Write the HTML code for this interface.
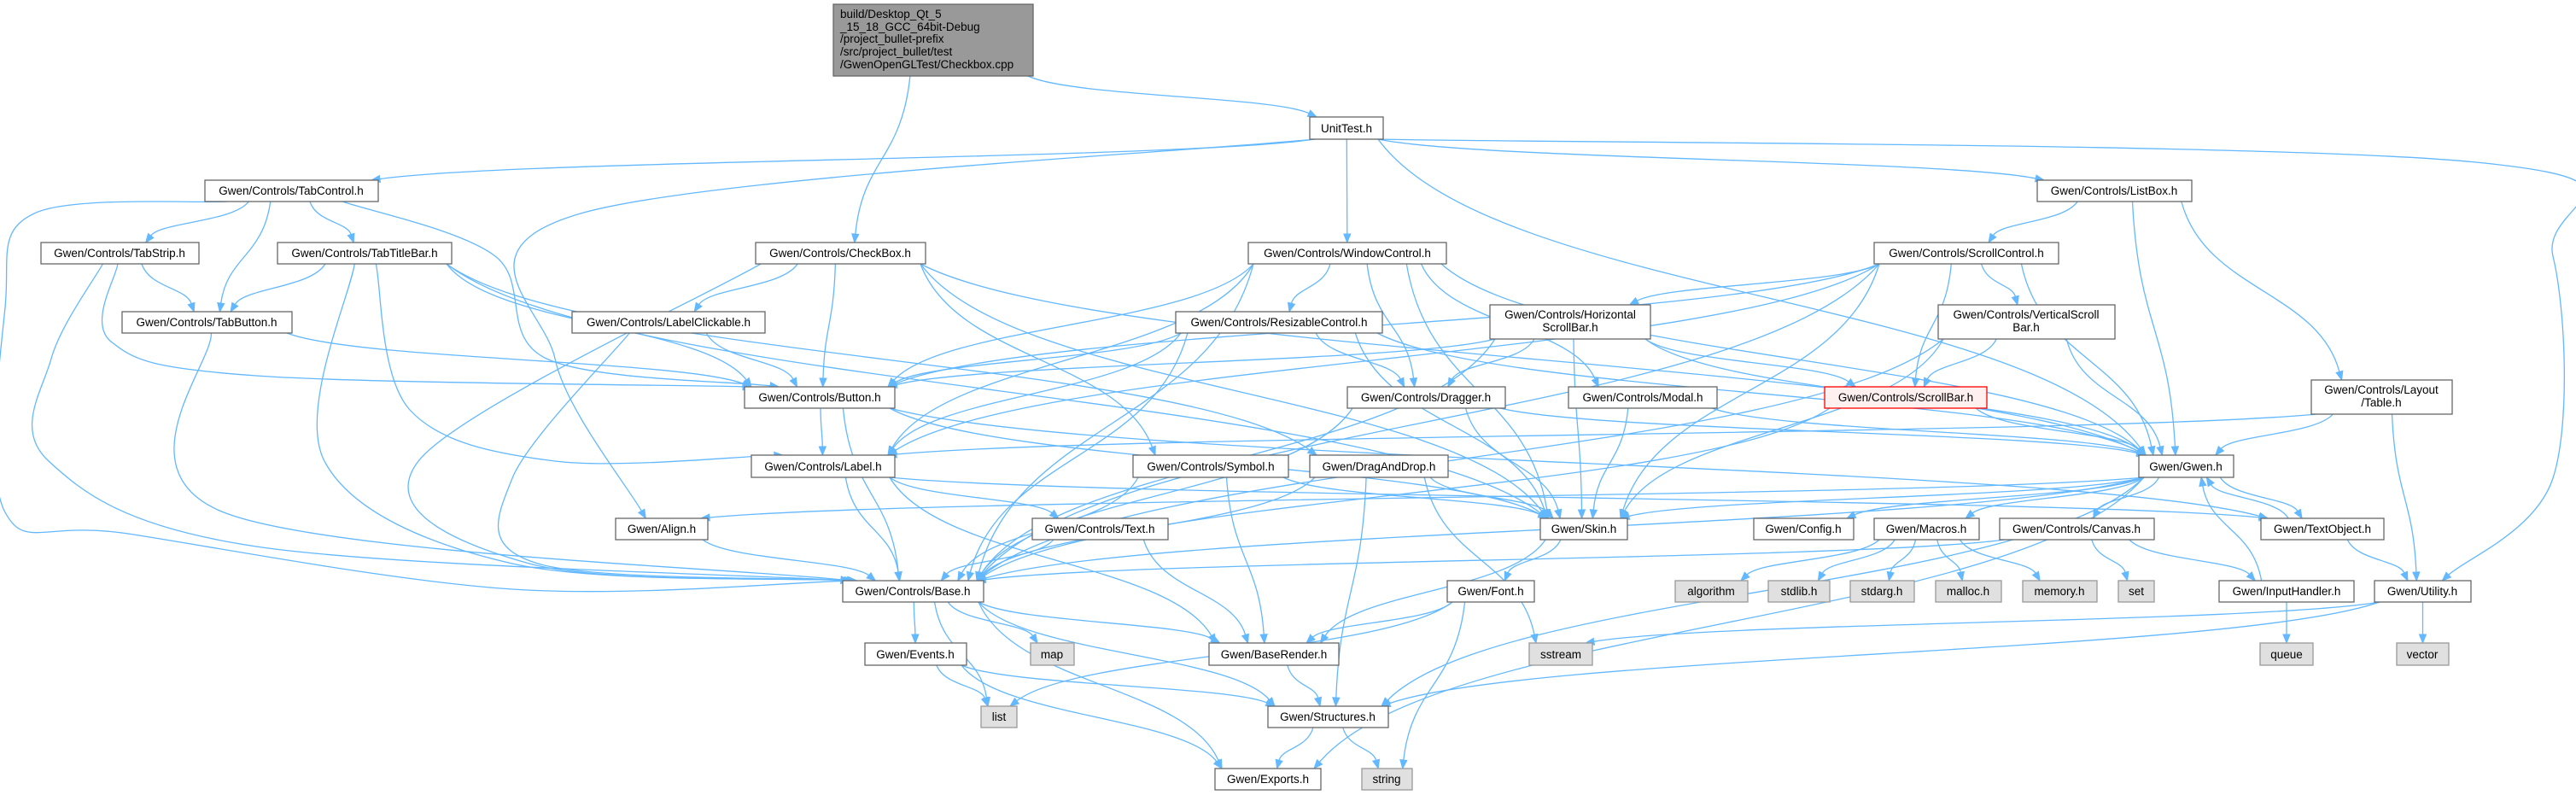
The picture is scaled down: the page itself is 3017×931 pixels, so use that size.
<!DOCTYPE html>
<html><head><meta charset="utf-8">
<style>
html,body{margin:0;padding:0;background:#fff;}
svg{display:block;}
text{font-family:"Liberation Sans","DejaVu Sans",sans-serif;font-size:13.5px;fill:#000;}
.n rect{fill:#fff;stroke:#666;stroke-width:1.3;}
.g rect{fill:#e0e0e0;stroke:#999;stroke-width:1.3;}
</style></head>
<body>
<svg id="s" width="3017" height="931" viewBox="0 0 3017 931" xmlns="http://www.w3.org/2000/svg">
<g id="edges"></g>
<g id="nodes">
<g><rect x="976" y="5" width="234" height="84" fill="#999" stroke="#666" stroke-width="1.3"/>
<text x="984" y="21">build/Desktop_Qt_5</text>
<text x="984" y="36">_15_18_GCC_64bit-Debug</text>
<text x="984" y="50">/project_bullet-prefix</text>
<text x="984" y="65">/src/project_bullet/test</text>
<text x="984" y="80">/GwenOpenGLTest/Checkbox.cpp</text></g>
<g class="n"><rect x="1534" y="137" width="86" height="26"/><text x="1577" y="155" text-anchor="middle">UnitTest.h</text></g>
<g class="n"><rect x="240" y="211" width="203" height="25"/><text x="341" y="228" text-anchor="middle">Gwen/Controls/TabControl.h</text></g>
<g class="n"><rect x="48" y="284" width="185" height="25"/><text x="140" y="301" text-anchor="middle">Gwen/Controls/TabStrip.h</text></g>
<g class="n"><rect x="325" y="284" width="204" height="25"/><text x="427" y="301" text-anchor="middle">Gwen/Controls/TabTitleBar.h</text></g>
<g class="n"><rect x="143" y="365" width="199" height="25"/><text x="242" y="382" text-anchor="middle">Gwen/Controls/TabButton.h</text></g>
<g class="n"><rect x="885" y="284" width="199" height="25"/><text x="984" y="301" text-anchor="middle">Gwen/Controls/CheckBox.h</text></g>
<g class="n"><rect x="670" y="365" width="226" height="25"/><text x="783" y="382" text-anchor="middle">Gwen/Controls/LabelClickable.h</text></g>
<g class="n"><rect x="872" y="453" width="176" height="25"/><text x="960" y="470" text-anchor="middle">Gwen/Controls/Button.h</text></g>
<g class="n"><rect x="880" y="533" width="168" height="26"/><text x="964" y="551" text-anchor="middle">Gwen/Controls/Label.h</text></g>
<g class="n"><rect x="721" y="607" width="108" height="25"/><text x="775" y="624" text-anchor="middle">Gwen/Align.h</text></g>
<g class="n"><rect x="987" y="680" width="165" height="25"/><text x="1069" y="697" text-anchor="middle">Gwen/Controls/Base.h</text></g>
<g class="n"><rect x="1462" y="284" width="232" height="25"/><text x="1578" y="301" text-anchor="middle">Gwen/Controls/WindowControl.h</text></g>
<g class="n"><rect x="1377" y="365" width="242" height="25"/><text x="1498" y="382" text-anchor="middle">Gwen/Controls/ResizableControl.h</text></g>
<g class="n"><rect x="1745" y="357" width="188" height="40"/><text x="1839" y="373" text-anchor="middle">Gwen/Controls/Horizontal</text><text x="1839" y="388" text-anchor="middle">ScrollBar.h</text></g>
<g class="n"><rect x="1578" y="453" width="185" height="25"/><text x="1670" y="470" text-anchor="middle">Gwen/Controls/Dragger.h</text></g>
<g class="n"><rect x="1837" y="453" width="174" height="25"/><text x="1924" y="470" text-anchor="middle">Gwen/Controls/Modal.h</text></g>
<g class="n"><rect x="1327" y="533" width="182" height="26"/><text x="1418" y="551" text-anchor="middle">Gwen/Controls/Symbol.h</text></g>
<g class="n"><rect x="1534" y="533" width="162" height="26"/><text x="1615" y="551" text-anchor="middle">Gwen/DragAndDrop.h</text></g>
<g class="n"><rect x="1209" y="607" width="159" height="25"/><text x="1288" y="624" text-anchor="middle">Gwen/Controls/Text.h</text></g>
<g class="n"><rect x="1804" y="607" width="102" height="25"/><text x="1855" y="624" text-anchor="middle">Gwen/Skin.h</text></g>
<g class="n"><rect x="1695" y="680" width="102" height="25"/><text x="1746" y="697" text-anchor="middle">Gwen/Font.h</text></g>
<g class="n"><rect x="1013" y="753" width="119" height="26"/><text x="1072" y="771" text-anchor="middle">Gwen/Events.h</text></g>
<g class="g"><rect x="1207" y="753" width="51" height="26"/><text x="1232" y="771" text-anchor="middle">map</text></g>
<g class="n"><rect x="1416" y="753" width="152" height="26"/><text x="1492" y="771" text-anchor="middle">Gwen/BaseRender.h</text></g>
<g class="g"><rect x="1791" y="753" width="74" height="26"/><text x="1828" y="771" text-anchor="middle">sstream</text></g>
<g class="g"><rect x="1149" y="827" width="42" height="25"/><text x="1170" y="844" text-anchor="middle">list</text></g>
<g class="n"><rect x="1485" y="827" width="141" height="25"/><text x="1555" y="844" text-anchor="middle">Gwen/Structures.h</text></g>
<g class="n"><rect x="1423" y="900" width="124" height="25"/><text x="1485" y="917" text-anchor="middle">Gwen/Exports.h</text></g>
<g class="g"><rect x="1595" y="900" width="59" height="25"/><text x="1624" y="917" text-anchor="middle">string</text></g>
<g class="g"><rect x="1962" y="680" width="85" height="25"/><text x="2004" y="697" text-anchor="middle">algorithm</text></g>
<g class="g"><rect x="2071" y="680" width="72" height="25"/><text x="2107" y="697" text-anchor="middle">stdlib.h</text></g>
<g class="g"><rect x="2167" y="680" width="75" height="25"/><text x="2204" y="697" text-anchor="middle">stdarg.h</text></g>
<g class="g"><rect x="2267" y="680" width="77" height="25"/><text x="2305" y="697" text-anchor="middle">malloc.h</text></g>
<g class="g"><rect x="2369" y="680" width="87" height="25"/><text x="2412" y="697" text-anchor="middle">memory.h</text></g>
<g class="g"><rect x="2481" y="680" width="42" height="25"/><text x="2502" y="697" text-anchor="middle">set</text></g>
<g class="n"><rect x="2599" y="680" width="158" height="25"/><text x="2678" y="697" text-anchor="middle">Gwen/InputHandler.h</text></g>
<g class="n"><rect x="2781" y="680" width="113" height="25"/><text x="2837" y="697" text-anchor="middle">Gwen/Utility.h</text></g>
<g class="g"><rect x="2647" y="753" width="62" height="26"/><text x="2678" y="771" text-anchor="middle">queue</text></g>
<g class="g"><rect x="2807" y="753" width="61" height="26"/><text x="2837" y="771" text-anchor="middle">vector</text></g>
<g class="n"><rect x="2054" y="607" width="117" height="25"/><text x="2112" y="624" text-anchor="middle">Gwen/Config.h</text></g>
<g class="n"><rect x="2195" y="607" width="123" height="25"/><text x="2256" y="624" text-anchor="middle">Gwen/Macros.h</text></g>
<g class="n"><rect x="2342" y="607" width="181" height="25"/><text x="2432" y="624" text-anchor="middle">Gwen/Controls/Canvas.h</text></g>
<g class="n"><rect x="2648" y="607" width="144" height="25"/><text x="2720" y="624" text-anchor="middle">Gwen/TextObject.h</text></g>
<g class="n"><rect x="2505" y="533" width="111" height="26"/><text x="2560" y="551" text-anchor="middle">Gwen/Gwen.h</text></g>
<g><rect x="2137" y="453" width="190" height="25" fill="#fff0f0" stroke="#f00" stroke-width="1.3"/><text x="2232" y="470" text-anchor="middle">Gwen/Controls/ScrollBar.h</text></g>
<g class="n"><rect x="2707" y="445" width="165" height="40"/><text x="2789" y="461" text-anchor="middle">Gwen/Controls/Layout</text><text x="2789" y="476" text-anchor="middle">/Table.h</text></g>
<g class="n"><rect x="2386" y="211" width="181" height="25"/><text x="2476" y="228" text-anchor="middle">Gwen/Controls/ListBox.h</text></g>
<g class="n"><rect x="2195" y="284" width="216" height="25"/><text x="2303" y="301" text-anchor="middle">Gwen/Controls/ScrollControl.h</text></g>
<g class="n"><rect x="2270" y="357" width="207" height="40"/><text x="2373" y="373" text-anchor="middle">Gwen/Controls/VerticalScroll</text><text x="2373" y="388" text-anchor="middle">Bar.h</text></g>
</g>
</svg>
<script>
var N={cpp:[976,5,234,84],unit:[1534,137,86,26],tabc:[240,211,203,25],tabs:[48,284,185,25],tabt:[325,284,204,25],tabb:[143,365,199,25],chk:[885,284,199,25],lcl:[670,365,226,25],btn:[872,453,176,25],lbl:[880,533,168,26],aln:[721,607,108,25],base:[987,680,165,25],win:[1462,284,232,25],res:[1377,365,242,25],hsb:[1745,357,188,40],drg:[1578,453,185,25],mod:[1837,453,174,25],sym:[1327,533,182,26],dnd:[1534,533,162,26],txt:[1209,607,159,25],skin:[1804,607,102,25],font:[1695,680,102,25],evt:[1013,753,119,26],map:[1207,753,51,26],br:[1416,753,152,26],ss:[1791,753,74,26],list:[1149,827,42,25],str:[1485,827,141,25],exp:[1423,900,124,25],string:[1595,900,59,25],alg:[1962,680,85,25],stdl:[2071,680,72,25],stda:[2167,680,75,25],mal:[2267,680,77,25],mem:[2369,680,87,25],set:[2481,680,42,25],inp:[2599,680,158,25],util:[2781,680,113,25],queue:[2647,753,62,26],vec:[2807,753,61,26],cfg:[2054,607,117,25],mac:[2195,607,123,25],cnv:[2342,607,181,25],tobj:[2648,607,144,25],gwen:[2505,533,111,26],sb:[2137,453,190,25],tbl:[2707,445,165,40],lb:[2386,211,181,25],sc:[2195,284,216,25],vsb:[2270,357,207,40]};
var E=[["cpp","unit"],["cpp","chk"],
["unit","tabc"],["unit","aln",[[680,250],[650,420]]],["unit","win"],["unit","lb"],["unit","gwen"],["unit","util",[[2900,190],[2990,300],[2990,560]]],
["tabc","tabs"],["tabc","tabt"],["tabc","tabb"],["tabc","btn",[[580,300],[640,420]]],["tabc","base",[[40,250],[6,360],[6,600],[150,625],[600,690]]],
["tabs","tabb"],["tabs","base",[[60,420],[57,540],[300,640]]],["tabs","btn",[[130,400],[300,440]]],
["tabt","tabb"],["tabt","base",[[380,540],[600,660]]],["tabt","lbl",[[480,480],[650,540]]],["tabt","skin"],["tabt","btn"],["tabt","dnd"],
["tabb","btn"],["tabb","base",[[262,600]]],
["chk","lcl"],["chk","btn"],["chk","base",[[490,540],[620,660]]],["chk","sym"],["chk","skin"],["chk","gwen"],
["lcl","btn"],["lcl","base",[[600,560],[630,660]]],
["btn","lbl"],["btn","base"],["btn","skin"],["btn","tobj"],
["lbl","base"],["lbl","br"],["lbl","txt"],["lbl","tobj"],
["aln","base"],
["win","res"],["win","drg"],["win","mod"],["win","btn"],["win","lbl"],["win","base"],["win","skin"],["win","gwen"],
["res","btn"],["res","drg"],["res","base"],["res","skin"],["res","gwen"],["res","lbl"],
["hsb","drg"],["hsb","sb"],["hsb","btn"],["hsb","base"],["hsb","skin"],["hsb","gwen"],
["drg","base"],["drg","skin"],["drg","gwen"],
["mod","skin"],["mod","gwen"],
["sym","base"],["sym","br"],["sym","skin"],
["dnd","skin"],["dnd","str"],["dnd","ss"],["dnd","base"],
["txt","base"],["txt","br"],
["skin","br"],["skin","font"],
["font","br"],["font","list"],["font","string"],
["base","evt"],["base","map"],["base","list"],["base","br"],["base","str"],["base","exp"],
["evt","list"],["evt","str"],["evt","exp"],
["br","str"],["str","exp"],["str","string"],
["gwen","aln"],["gwen","skin"],["gwen","cfg"],["gwen","mac"],["gwen","cnv"],["gwen","tobj"],["gwen","base"],["gwen","str"],["gwen","exp"],
["mac","alg"],["mac","stdl"],["mac","stda"],["mac","mal"],["mac","mem"],
["cnv","set"],["cnv","inp"],["cnv","base"],
["inp","gwen"],["inp","queue"],
["tobj","gwen"],["tobj","util"],
["util","vec"],["util","ss"],["util","str"],
["lb","sc"],["lb","tbl"],["lb","gwen"],
["sc","vsb"],["sc","hsb"],["sc","sb"],["sc","btn"],["sc","base"],["sc","skin"],["sc","gwen"],["sc","lbl"],
["vsb","sb"],["vsb","gwen"],["vsb","skin"],["vsb","base"],
["sb","gwen"],["sb","base"],
["tbl","util"],["tbl","gwen"],["tbl","lbl"]];
var C="#63b8ff",g=document.getElementById("edges"),out="";
function cl(v,a,b){return Math.max(a,Math.min(b,v));}
function f(v){return v.toFixed(1);}
E.forEach(function(e){
 var s=N[e[0]],t=N[e[1]],via=e[2];
 var scx=s[0]+s[2]/2,tcx=t[0]+t[2]/2,sx,sy,tx,ty;
 var refx=via?via[0][0]:tcx, refx2=via?via[via.length-1][0]:scx;
 if(t[1]>=s[1]+s[3]){sy=s[1]+s[3];ty=t[1];}else{sy=s[1];ty=t[1]+t[3];}
 sx=cl(scx+(refx-scx)*0.25,s[0]+6,s[0]+s[2]-6);
 tx=cl(tcx+(refx2-tcx)*0.15,t[0]+8,t[0]+t[2]-8);
 var bx,by,d;
 if(!via){
  var dy=ty-sy,dx=tx-sx;
  var c2x=tx-dx*0.15,c2y=ty-dy*0.5;
  var ax=tx-c2x,ay=ty-c2y,L=Math.sqrt(ax*ax+ay*ay)||1;ax/=L;ay/=L;
  bx=tx-ax*10;by=ty-ay*10;
  d='M'+f(sx)+','+sy+' C'+f(sx+dx*0.15)+','+f(sy+dy*0.5)+' '+f(c2x)+','+f(c2y)+' '+f(bx)+','+f(by);
 } else {
  var P=[[sx,sy]].concat(via);var last=P[P.length-1];
  var ax=tx-last[0],ay=ty-last[1],L=Math.sqrt(ax*ax+ay*ay)||1;ax/=L;ay/=L;
  bx=tx-ax*10;by=ty-ay*10;P.push([bx,by]);
  d='M'+f(P[0][0])+','+f(P[0][1]);
  for(var i=0;i<P.length-1;i++){
   var p0=P[i-1]||P[i],p1=P[i],p2=P[i+1],p3=P[i+2]||P[i+1];
   d+=' C'+f(p1[0]+(p2[0]-p0[0])/6)+','+f(p1[1]+(p2[1]-p0[1])/6)+' '+f(p2[0]-(p3[0]-p1[0])/6)+','+f(p2[1]-(p3[1]-p1[1])/6)+' '+f(p2[0])+','+f(p2[1]);
  }
 }
 out+='<path d="'+d+'" fill="none" stroke="'+C+'" stroke-width="1.3"/>';
 var px=-ay*4,py=ax*4;
 out+='<polygon points="'+f(tx)+','+f(ty)+' '+f(bx+px)+','+f(by+py)+' '+f(bx-px)+','+f(by-py)+'" fill="'+C+'" stroke="'+C+'"/>';
});
g.innerHTML=out;
</script>
</body></html>
